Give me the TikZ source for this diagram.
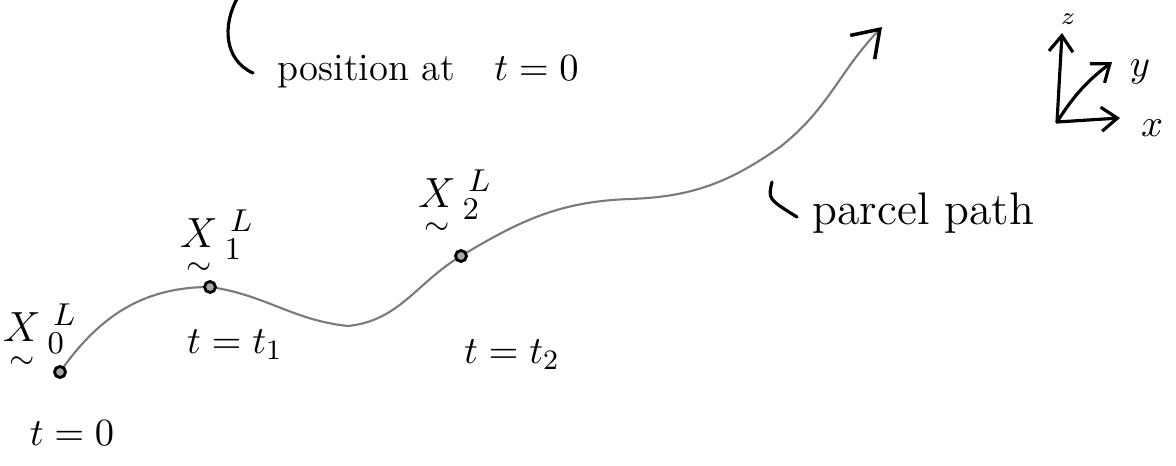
\documentclass[tikz,border=0pt]{standalone}
\usepackage{amsmath,amssymb}
\usepackage{tikz}
\usetikzlibrary{arrows.meta}
\definecolor{Pencil}{HTML}{7A7A7A}

\begin{document}
\begin{tikzpicture}[
  pen/.style={black,line width=0.9pt,line cap=round},
  trace/.style={Pencil,line width=0.6pt},
  lbl/.style={font=\fontsize{11}{13}\selectfont,inner sep=0pt},
  big/.style={font=\fontsize{13}{15}\selectfont,inner sep=0pt},
  dot/.style={circle,draw,fill=black!35,line width=0.8pt,minimum size=0.11cm,inner sep=0pt},
  barb/.style={-{Straight Barb[length=2.5mm,width=3.4mm,line width=1pt,color=black]}},
  axis/.style={pen,-{Straight Barb[length=1.6mm,width=2.4mm]}}
]
  \useasboundingbox (0,0) rectangle (11.76,4.65);

  \coordinate (p0) at (0.60,0.93);
  \coordinate (p1) at (2.10,1.78);
  \coordinate (m) at (3.48,1.39);
  \coordinate (p2) at (4.61,2.09);
  \coordinate (f) at (6.30,2.66);
  \coordinate (b) at (7.80,3.18);
  \coordinate (tip) at (8.82,4.38);

  \draw[trace,barb] (p0) to[out=55,in=180] (p1) to[out=-8,in=174] (m)
    to[out=6,in=211] (p2) to[out=31,in=182] (f) to[out=2,in=215] (b)
    to[out=38,in=226] (tip);

  \node[dot] (x0) at (p0) {};
  \node[dot] (x1) at (p1) {};
  \node[dot] (x2) at (p2) {};

  \node[big] (x0lab) at (0.40,1.36) {$\smash[b]{\underset{\sim}{X}}\,{}_0^{\,L}$};
  \node[big] (x1lab) at (2.17,2.30) {$\smash[b]{\underset{\sim}{X}}\,{}_1^{\,L}$};
  \node[big] (x2lab) at (4.55,2.70) {$\smash[b]{\underset{\sim}{X}}\,{}_2^{\,L}$};

  \node[lbl] (t0) at (0.72,0.32) {$t=0$};
  \node[lbl] (t1) at (2.35,1.20) {$t=t_1$};
  \node[lbl] (t2) at (5.12,1.10) {$t=t_2$};

  \node[lbl,anchor=base west] (pos) at (2.77,3.84) {position at\quad $t=0$};
  \coordinate (posa) at (2.38,4.68);
  \coordinate (posb) at (2.53,3.92);
  \draw[pen] (posa) .. controls (2.22,4.40) and (2.24,4.05) .. (posb);

  \node[big,anchor=base west] (parcel) at (8.12,2.40) {parcel path};
  \coordinate (hooka) at (7.72,2.83);
  \coordinate (hookb) at (7.97,2.48);
  \draw[pen] (hooka) .. controls (7.68,2.66) .. (hookb);

  \coordinate (o) at (10.57,3.43);
  \coordinate (ztip) at (10.62,4.32);
  \coordinate (ytip) at (11.12,4.03);
  \coordinate (xtip) at (11.20,3.47);
  \draw[axis] (o) -- (ztip);
  \draw[axis] (o) to[bend left=10] (ytip);
  \draw[axis] (o) -- (xtip);
  \node[font=\scriptsize,inner sep=0pt] (zlab) at (10.68,4.46) {$z$};
  \node[lbl] (ylab) at (11.40,3.93) {$y$};
  \node[lbl] (xlab) at (11.52,3.37) {$x$};
\end{tikzpicture}
\end{document}
